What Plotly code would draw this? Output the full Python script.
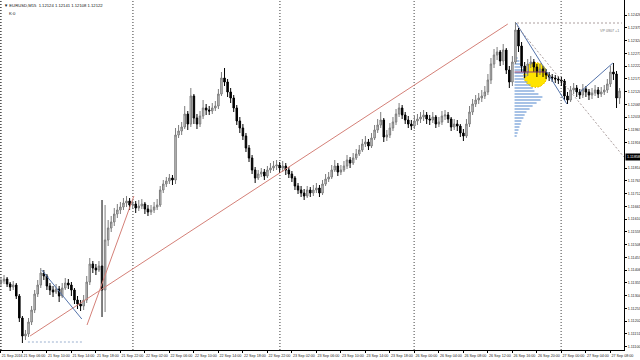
import plotly.graph_objects as go

# ---------------- data ----------------
BASE = 1.1          # prices below are stored in 1e-5 units above BASE
SCALE = 100000.0

HEADER = "▼ EURUSD,M15  1.12124 1.12141 1.12108 1.12122"
SUBHEADER = "K:0"
VP_LABEL = "VP 0907 +1"

X_TICK_BARS = [0.75, 8, 16, 24, 32, 40, 48, 56, 64, 72, 80, 88, 96, 104, 112, 120, 128,
               136, 144, 152, 160, 168, 176, 184, 192, 200]
X_TICK_TEXT = ["21 Sep 2016", "21 Sep 06:00", "21 Sep 10:00", "21 Sep 14:00", "21 Sep 18:00",
               "21 Sep 22:00", "22 Sep 02:00", "22 Sep 06:00", "22 Sep 10:00", "22 Sep 14:00",
               "22 Sep 18:00", "22 Sep 22:00", "23 Sep 02:00", "23 Sep 06:00", "23 Sep 10:00",
               "23 Sep 14:00", "23 Sep 18:00", "26 Sep 00:00", "26 Sep 04:00", "26 Sep 08:00",
               "26 Sep 12:00", "26 Sep 16:00", "26 Sep 20:00", "27 Sep 00:00", "27 Sep 04:00",
               "27 Sep 08:00"]
# price-axis labels (the one hidden behind the marked price box is left out)
Y_TICK_PTS = [2426, 2375, 2324, 2273, 2222, 2171, 2120, 2069, 2018, 1967, 1916, 1814,
              1763, 1712, 1661, 1610, 1559, 1508, 1457, 1406, 1355, 1304, 1253, 1202, 1151, 1100]
GRID_PTS = [2426, 2375, 2324, 2273, 2222, 2171, 2120, 2069, 2018, 1967, 1916, 1865, 1814,
            1763, 1712, 1661, 1610, 1559, 1508, 1457, 1406, 1355, 1304, 1253, 1202, 1151, 1100]
DAY_SEPARATORS = [44, 92, 136, 184]
MARKED_PRICE = 1858

OPEN = [1346,1354,1362,1370,1350,1338,1346,1302,1214,1142,
        1150,1198,1246,1310,1346,1394,1382,1342,1326,1318,
        1330,1302,1334,1354,1346,1326,1286,1270,1262,1286,
        1358,1430,1414,1406,1422,1326,1526,1574,1598,1630,
        1646,1658,1674,1682,1666,1670,1654,1662,1670,1650,
        1638,1646,1658,1666,1726,1750,1762,1774,1766,1946,
        1962,1978,2030,1990,2102,2014,1990,2022,2054,2046,
        2042,2054,2062,2110,2174,2158,2118,2094,2054,2002,
        1974,1942,1894,1854,1806,1774,1790,1798,1782,1806,
        1814,1822,1826,1814,1822,1806,1790,1774,1742,1726,
        1714,1702,1726,1714,1726,1734,1714,1750,1770,1778,
        1806,1822,1798,1806,1822,1846,1834,1854,1870,1886,
        1910,1918,1902,1934,1966,1986,2006,1938,1946,1974,
        1998,2030,2054,2026,2006,1990,1982,2002,2010,2018,
        2026,2010,2006,2018,1990,1998,2022,2026,2010,1978,
        1990,1982,1954,1942,1990,2038,2070,2086,2094,2102,
        2118,2166,2230,2266,2278,2242,2286,2206,2158,2238,
        2366,2302,2222,2198,2230,2238,2218,2198,2210,2198,
        2186,2178,2174,2170,2166,2162,2102,2086,2126,2134,
        2118,2106,2130,2118,2106,2114,2126,2110,2118,2126,
        2150,2198,2190,2094]
HIGH = [1370,1378,1386,1378,1358,1362,1354,1310,1222,1166,
        1214,1262,1326,1366,1414,1406,1390,1354,1342,1350,
        1342,1354,1374,1370,1358,1334,1302,1286,1306,1382,
        1454,1442,1430,1442,1686,1666,1606,1622,1654,1670,
        1678,1694,1702,1694,1690,1682,1686,1690,1678,1666,
        1666,1678,1690,1742,1766,1778,1790,1786,1974,1986,
        1998,2062,2042,2134,2110,2030,2042,2086,2070,2062,
        2074,2082,2130,2198,2214,2170,2134,2106,2066,2018,
        1990,1954,1906,1866,1818,1806,1814,1810,1822,1834,
        1842,1846,1838,1842,1834,1818,1802,1782,1754,1742,
        1730,1742,1738,1746,1754,1746,1766,1790,1798,1826,
        1846,1834,1826,1842,1866,1858,1874,1890,1906,1930,
        1942,1930,1954,1986,2010,2038,2014,1966,1994,2018,
        2050,2074,2066,2038,2022,2006,2022,2030,2038,2046,
        2038,2026,2038,2026,2018,2042,2046,2038,2018,2010,
        2006,1990,1970,2010,2062,2090,2106,2114,2126,2142,
        2190,2254,2290,2298,2286,2310,2294,2222,2262,2398,
        2374,2318,2238,2250,2262,2250,2230,2230,2222,2210,
        2198,2190,2186,2182,2178,2170,2118,2142,2154,2146,
        2130,2150,2142,2130,2134,2146,2138,2138,2146,2170,
        2222,2234,2202,2134]
LOW = [1334,1342,1350,1338,1322,1326,1290,1198,1114,1126,
       1138,1186,1234,1298,1334,1366,1326,1306,1298,1310,
       1278,1294,1326,1330,1302,1270,1250,1242,1246,1274,
       1346,1394,1386,1398,1218,1238,1502,1558,1582,1614,
       1630,1646,1658,1646,1650,1634,1642,1650,1630,1622,
       1626,1634,1646,1658,1714,1738,1750,1746,1750,1934,
       1946,1970,1966,1978,1990,1970,1978,2010,2026,2026,
       2030,2042,2050,2102,2142,2098,2074,2038,1986,1954,
       1926,1878,1838,1790,1754,1766,1778,1766,1774,1794,
       1802,1806,1794,1798,1786,1774,1758,1726,1710,1698,
       1686,1694,1698,1702,1714,1698,1706,1742,1758,1770,
       1798,1782,1786,1798,1810,1814,1826,1846,1862,1878,
       1898,1886,1894,1926,1954,1974,1918,1922,1934,1962,
       1986,2018,2010,1990,1974,1966,1970,1986,1994,2002,
       1990,1986,1994,1974,1978,1986,2006,1994,1962,1966,
       1962,1938,1922,1934,1978,2026,2058,2070,2078,2090,
       2106,2150,2214,2246,2222,2226,2190,2134,2142,2230,
       2278,2198,2174,2182,2214,2198,2178,2186,2178,2170,
       2162,2158,2154,2150,2142,2086,2070,2078,2110,2098,
       2090,2094,2098,2086,2090,2102,2094,2098,2106,2114,
       2138,2166,2054,2070]
CLOSE = [1354,1362,1370,1350,1338,1346,1302,1214,1142,1150,
         1198,1246,1310,1346,1394,1382,1342,1326,1318,1330,
         1302,1334,1354,1346,1326,1286,1270,1262,1286,1358,
         1430,1414,1406,1422,1326,1526,1574,1598,1630,1646,
         1658,1674,1682,1666,1670,1654,1662,1670,1650,1638,
         1646,1658,1666,1726,1750,1762,1774,1766,1946,1962,
         1978,2030,1990,2102,2014,1990,2022,2054,2046,2042,
         2054,2062,2110,2174,2158,2118,2094,2054,2002,1974,
         1942,1894,1854,1806,1774,1790,1798,1782,1806,1814,
         1822,1826,1814,1822,1806,1790,1774,1742,1726,1714,
         1702,1726,1714,1726,1734,1714,1750,1770,1778,1806,
         1822,1798,1806,1822,1846,1834,1854,1870,1886,1910,
         1918,1902,1934,1966,1986,2006,1938,1946,1974,1998,
         2030,2054,2026,2006,1990,1982,2002,2010,2018,2026,
         2010,2006,2018,1990,1998,2022,2026,2010,1978,1990,
         1982,1954,1942,1990,2038,2070,2086,2094,2102,2118,
         2166,2230,2266,2278,2242,2286,2206,2158,2238,2366,
         2302,2222,2198,2230,2238,2218,2198,2210,2198,2186,
         2178,2174,2170,2166,2162,2102,2086,2126,2134,2118,
         2106,2130,2118,2106,2114,2126,2110,2118,2126,2150,
         2198,2190,2094,2122]

# drawn objects (bar index, price pts)
RED_LINES = [((10.5, 1142), (166.5, 2390)), ((29.1, 1186), (44.4, 1702))]
BLUE_LINES = [((14.3, 1406), (27.4, 1210)), ((169.2, 2394), (185.8, 2070)),
              ((190.1, 2118), (200.8, 2234))]
GREY_DOTTED = [((169.5, 2394), (203.8, 2394)), ((169.5, 2382), (204.4, 1858))]
BLUE_DOTTED = [((9.8, 1118), (27.8, 1118))]
POC_LINE = ((168.7, 2198), (179.0, 2198))

VP_BASE_BAR = 168.7
VP_PRICE = [2254, 2242, 2230, 2218, 2206, 2194, 2182, 2170, 2158, 2146, 2134, 2122, 2110, 2098,
            2086, 2074, 2062, 2050, 2038, 2026, 2014, 2002, 1990, 1978, 1966, 1954, 1942]
VP_VOL = [1.0, 1.6, 2.0, 2.6, 3.3, 4.6, 3.9, 3.3, 4.2, 5.2, 5.9, 6.5, 7.8, 9.1,
          8.5, 7.2, 5.9, 4.9, 3.9, 3.3, 2.9, 2.3, 2.0, 1.6, 1.3, 1.0, 0.7]


def px(v):
    return BASE + v / SCALE


FONT = "Liberation Sans, Arial, DejaVu Sans"
FS = 3.7
bars = list(range(len(CLOSE)))

fig = go.Figure()

# faint grid
for g in GRID_PTS:
    fig.add_hline(y=px(g), line=dict(color="#ededed", width=1, dash="1px,2px"), layer="below")
for t in X_TICK_BARS:
    fig.add_vline(x=t, line=dict(color="#ededed", width=1, dash="1px,2px"), layer="below")

fig.add_trace(go.Bar(
    orientation="h", y=[px(v) for v in VP_PRICE], x=VP_VOL, base=VP_BASE_BAR,
    width=8 / SCALE, marker=dict(color="rgba(130,168,220,0.7)", line=dict(width=0)),
    hoverinfo="skip"))

fig.add_trace(go.Candlestick(
    x=bars, open=[px(v) for v in OPEN], high=[px(v) for v in HIGH],
    low=[px(v) for v in LOW], close=[px(v) for v in CLOSE],
    increasing=dict(line=dict(color="#7c7c7c", width=1), fillcolor="#cfcfcf"),
    decreasing=dict(line=dict(color="#000000", width=1), fillcolor="#000000"),
    whiskerwidth=0, hoverinfo="skip"))


def add_lines(lines, color, dash, width=1):
    for (a, b) in lines:
        fig.add_trace(go.Scatter(x=[a[0], b[0]], y=[px(a[1]), px(b[1])], mode="lines",
                                 line=dict(color=color, width=width, dash=dash),
                                 hoverinfo="skip"))


add_lines(RED_LINES, "#d48078", "solid")
add_lines(BLUE_LINES, "#5574ab", "solid")
add_lines(GREY_DOTTED, "#ab9e9e", "2px,2px")
add_lines(BLUE_DOTTED, "#9bb0cf", "2px,2px")
add_lines([POC_LINE], "#8a3d6e", "solid")

shapes = []
for s in DAY_SEPARATORS:
    shapes.append(dict(type="line", xref="x", yref="paper", x0=s, x1=s, y0=0, y1=1,
                       line=dict(color="#8c8c8c", width=1, dash="1px,2px"), layer="below"))
# window frame at left edge
shapes.append(dict(type="line", xref="paper", yref="paper", x0=0.001, x1=0.001, y0=0, y1=1,
                   line=dict(color="#555555", width=1)))
# yellow cursor highlight (video overlay)
shapes.append(dict(type="circle", xref="paper", yref="paper",
                   x0=524 / 624, x1=547 / 624, y0=(350 - 87) / 350, y1=(350 - 63) / 350,
                   fillcolor="rgba(255,228,0,0.85)", line=dict(color="rgba(240,190,0,0.9)", width=1)))

annotations = [
    dict(xref="paper", yref="paper", x=0.004, y=0.997, xanchor="left", yanchor="top",
         text=HEADER, showarrow=False, font=dict(family=FONT, size=4.2, color="#111111")),
    dict(xref="paper", yref="paper", x=0.012, y=0.975, xanchor="left", yanchor="top",
         text=SUBHEADER, showarrow=False, font=dict(family=FONT, size=4.2, color="#111111")),
    dict(xref="paper", yref="paper", x=0.995, y=0.912, xanchor="right", yanchor="middle",
         text=VP_LABEL, showarrow=False, font=dict(family=FONT, size=FS, color="#777777")),
    dict(xref="paper", yref="y", x=1.0, y=px(MARKED_PRICE), xanchor="left", yanchor="middle",
         text=f"{px(MARKED_PRICE):.5f}", showarrow=False, bgcolor="#000000", borderpad=1,
         xshift=1, font=dict(family=FONT, size=FS, color="#ffffff")),
]

fig.update_layout(
    width=640, height=360, margin=dict(l=0, r=16, t=0, b=10),
    paper_bgcolor="#ffffff", plot_bgcolor="#ffffff", showlegend=False,
    shapes=shapes, annotations=annotations, barmode="overlay",
    xaxis=dict(range=[0.686, 204.44], tickmode="array", tickvals=X_TICK_BARS,
               ticktext=X_TICK_TEXT, ticklabelshift=12, tickangle=0,
               tickfont=dict(family=FONT, size=FS, color="#222222"),
               ticks="outside", ticklen=2, tickcolor="#000000", showgrid=False,
               showline=True, linecolor="#000000", linewidth=1, zeroline=False,
               rangeslider=dict(visible=False), fixedrange=True),
    yaxis=dict(side="right", range=[px(1086), px(2486)], tickmode="array",
               tickvals=[px(v) for v in Y_TICK_PTS], ticktext=[f"{px(v):.5f}" for v in Y_TICK_PTS],
               tickfont=dict(family=FONT, size=FS, color="#222222"),
               ticks="outside", ticklen=2, tickcolor="#000000", showgrid=False,
               showline=True, linecolor="#000000", linewidth=1, zeroline=False, fixedrange=True),
)

fig.write_html("out.html")
